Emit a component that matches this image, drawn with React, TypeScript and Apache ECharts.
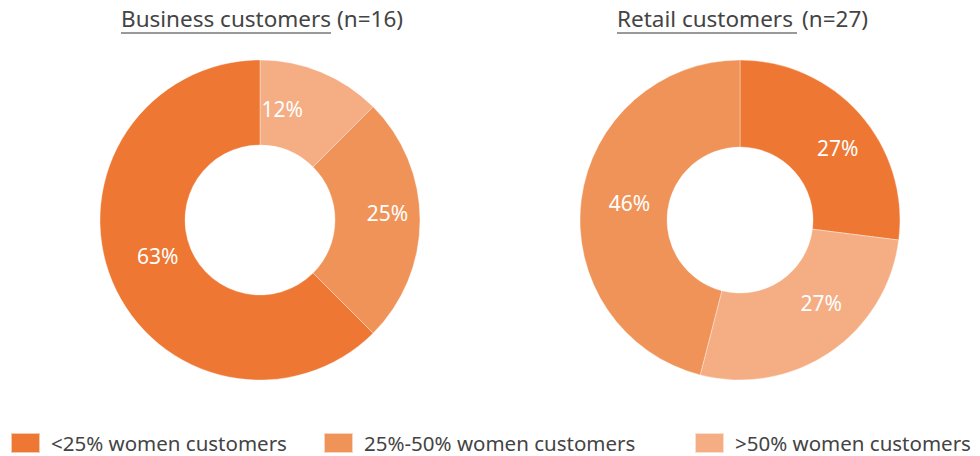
import React, { useEffect, useRef } from "react";
import * as echarts from "echarts";

const categories = ["<25% women customers", "25%-50% women customers", ">50% women customers"];
const colors = ["#ED7733", "#F09359", "#F5AD83"];

// Business customers: clockwise from top -> >50%, 25%-50%, <25%
const businessOrder = [2, 1, 0];
const businessValues = [12.5, 25, 62.5];
const businessLabels = ["12%", "25%", "63%"];

// Retail customers: clockwise from top -> <25%, >50%, 25%-50%
const retailOrder = [0, 2, 1];
const retailValues = [27, 27, 46];
const retailLabels = ["27%", "27%", "46%"];

// label nudges (style only)
const businessLabelOffsets = [[-24, 0], [7, -7], [9, -10]];
const retailLabelOffsets = [[8, 7], [14, -16], [8, -2]];

const font = "'Noto Sans', 'Open Sans', sans-serif";

function buildData(order: number[], values: number[], labels: string[], offsets: number[][]) {
  return order.map((ci, i) => ({
    name: categories[ci],
    value: values[i],
    itemStyle: { color: colors[ci] },
    label: { formatter: labels[i], offset: offsets[i] },
  }));
}

export default function App() {
  const ref = useRef<HTMLDivElement>(null);
  useEffect(() => {
    document.body.style.margin = "0";
    const chart = echarts.init(ref.current!, null, { renderer: "svg" });
    const pieCommon = {
      type: "pie",
      startAngle: 90,
      clockwise: true,
      avoidLabelOverlap: false,
      label: {
        show: true,
        position: "inside",
        color: "#ffffff",
        fontSize: 21,
        fontFamily: font,
      },
      labelLine: { show: false },
      itemStyle: { borderColor: "rgba(255,255,255,0.6)", borderWidth: 0.6 },
      emphasis: { disabled: true },
    };
    const legendCommon = {
      top: 432,
      padding: 0,
      itemWidth: 29,
      itemHeight: 20,
      icon: "rect",
      itemGap: 0,
      textStyle: {
        fontSize: 20.5,
        lineHeight: 20,
        color: "#444444",
        fontFamily: font,
        padding: [0, 0, 0, 6],
      },
    };
    const titleStyle = { fontSize: 22.5, fill: "#444444", fontFamily: font };
    chart.setOption({
      animation: false,
      legend: [
        { ...legendCommon, left: 10, data: [categories[0]] },
        { ...legendCommon, left: 323, data: [categories[1]] },
        { ...legendCommon, left: 694, data: [categories[2]] },
      ],
      graphic: [
        { type: "text", left: 121, top: 7, style: { text: "Business customers", ...titleStyle } },
        { type: "text", left: 337, top: 7, style: { text: "(n=16)", ...titleStyle } },
        {
          type: "line",
          shape: { x1: 121, y1: 33, x2: 331, y2: 33 },
          style: { stroke: "#777777", lineWidth: 1.5 },
        },
        { type: "text", left: 617, top: 7, style: { text: "Retail customers", ...titleStyle } },
        { type: "text", left: 802, top: 7, style: { text: "(n=27)", ...titleStyle } },
        {
          type: "line",
          shape: { x1: 617, y1: 33, x2: 797, y2: 33 },
          style: { stroke: "#777777", lineWidth: 1.5 },
        },
      ],
      series: [
        {
          ...pieCommon,
          name: "Business customers",
          center: [260, 220],
          radius: [75, 160],
          data: buildData(businessOrder, businessValues, businessLabels, businessLabelOffsets),
        },
        {
          ...pieCommon,
          name: "Retail customers",
          center: [740, 220],
          radius: [73, 160],
          data: buildData(retailOrder, retailValues, retailLabels, retailLabelOffsets),
        },
      ],
    });
    return () => chart.dispose();
  }, []);
  return <div ref={ref} style={{ width: 980, height: 456 }} />;
}
